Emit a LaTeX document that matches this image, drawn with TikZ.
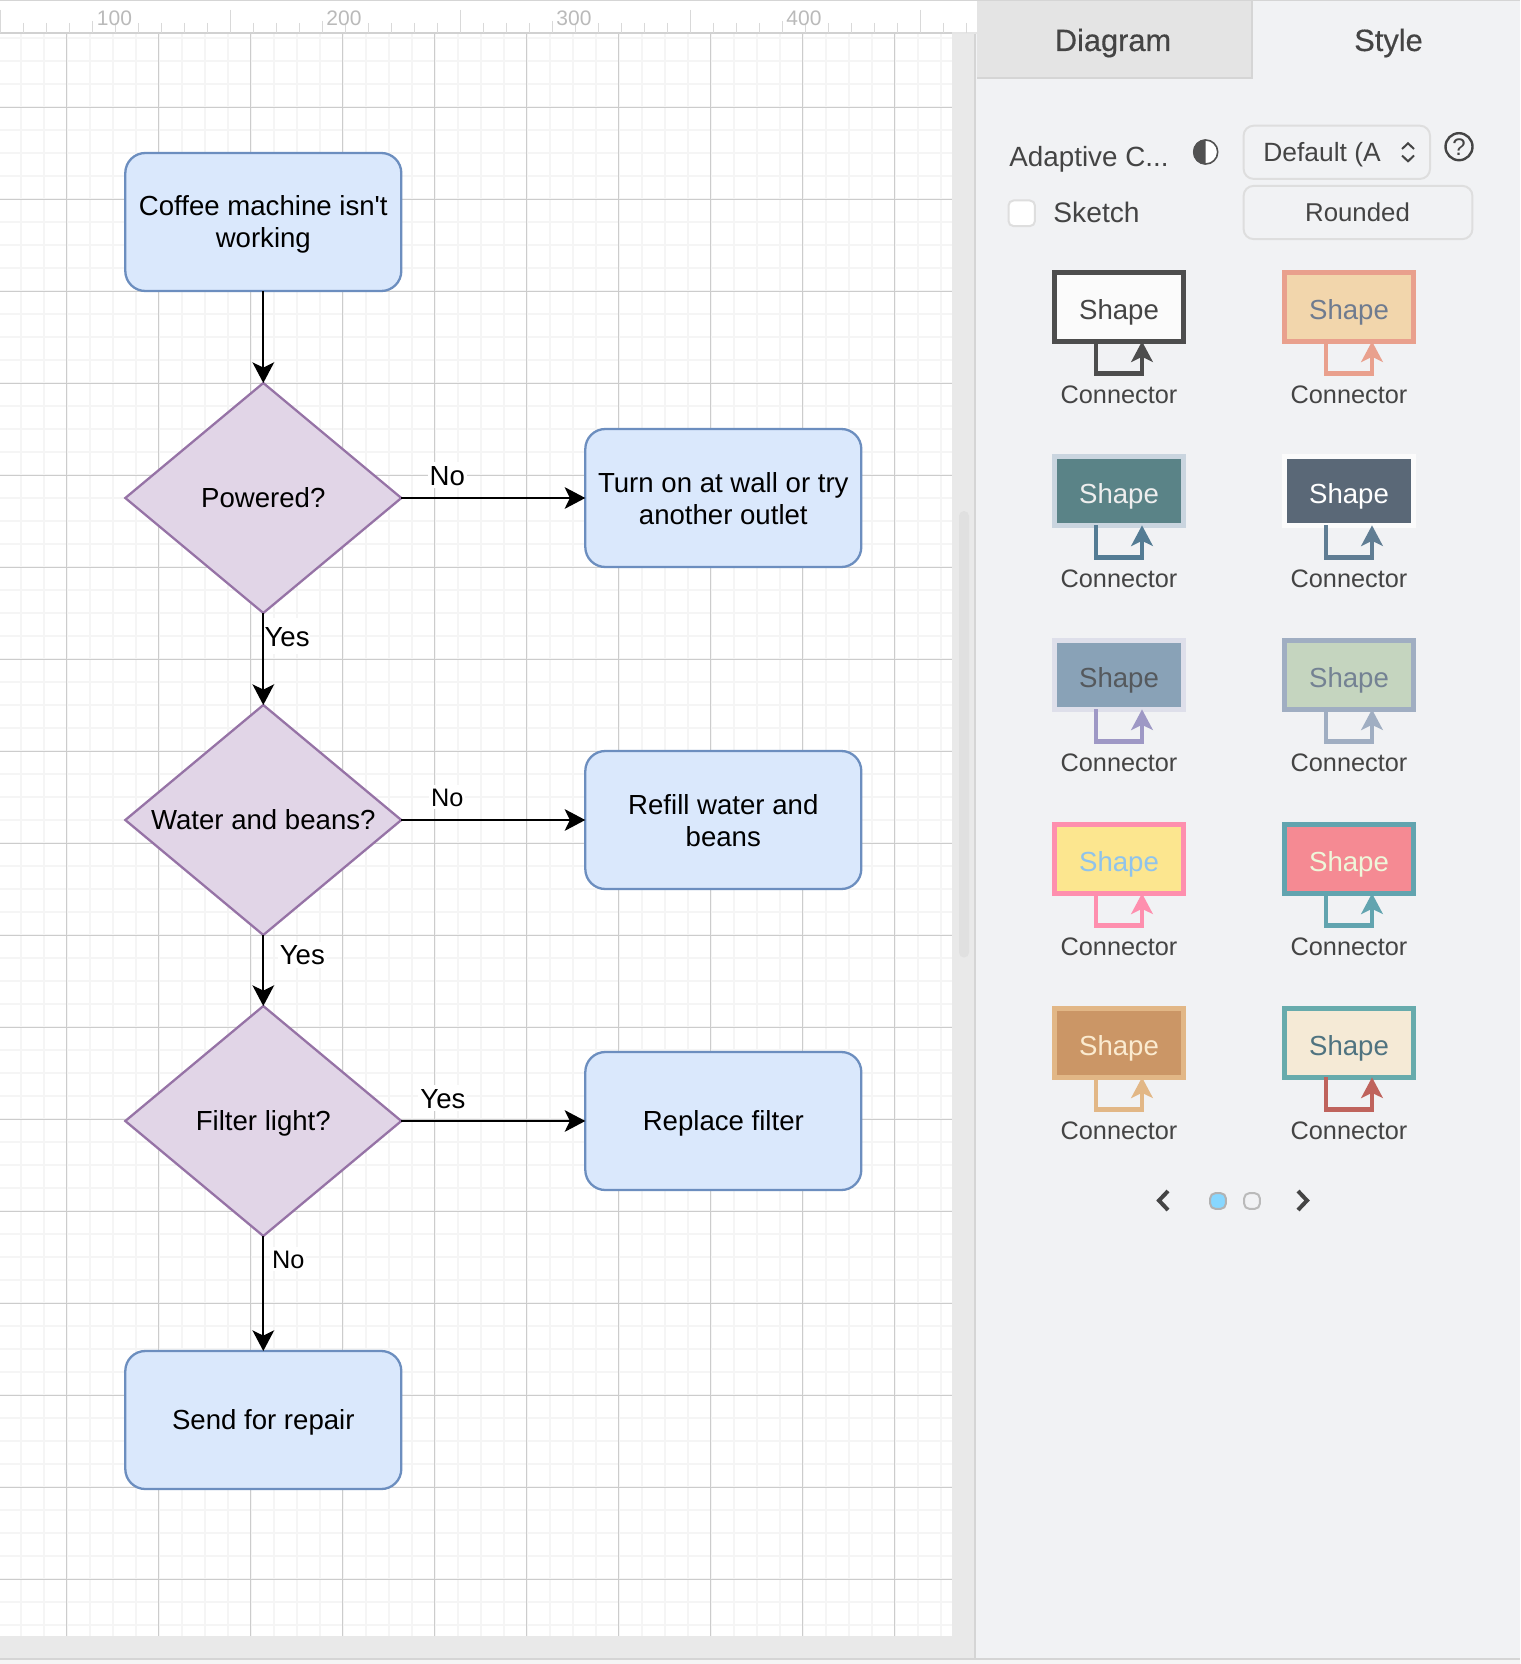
\documentclass[tikz,border=0pt]{standalone}
\usepackage{fontspec}
\setmainfont{Liberation Sans}
\newfontfamily\tabfont[FakeBold=0.4]{Liberation Sans}
\usetikzlibrary{positioning, shapes.geometric, arrows.meta}
\definecolor{panelbg}{HTML}{F1F2F4}
\definecolor{marginbg}{HTML}{E9E9E9}
\definecolor{edgegrey}{HTML}{D5D5D5}
\definecolor{tabbg}{HTML}{E4E4E4}
\definecolor{paneltext}{HTML}{444444}
\definecolor{boxfill}{HTML}{DAE8FC}
\definecolor{boxline}{HTML}{6C8EBF}
\definecolor{diafill}{HTML}{E1D5E7}
\definecolor{dialine}{HTML}{9673A6}
\tikzset{process/.style = {draw=boxline, fill=boxfill, line width=1.15pt, rounded corners=10pt, minimum width=138pt, minimum height=69pt, inner sep=0pt, outer sep=0pt, align=center, font=\fontsize{13.8}{16}\selectfont}}
\tikzset{oneline/.style = {text height=9.8pt, text depth=0pt}}
\tikzset{twolines/.style = {text height=26pt, text depth=0pt}}
\tikzset{decision/.style = {diamond, draw=dialine, fill=diafill, line width=1.15pt, shape aspect=1.2, minimum width=138pt, minimum height=115pt, inner sep=0pt, outer sep=0pt, oneline, font=\fontsize{13.8}{16}\selectfont}}
\tikzset{edgelabel/.style = {fill=white, inner xsep=1pt, inner ysep=1.5pt, text height=10pt, text depth=0pt, font=\fontsize{13.8}{16}\selectfont}}
\tikzset{smalllabel/.style = {edgelabel, text height=9.4pt, font=\fontsize{12.65}{14}\selectfont}}
\tikzset{rulerlabel/.style = {text=black!27, inner sep=0pt, font=\fontsize{10.5}{12}\selectfont}}
\tikzset{panellabel/.style = {text=paneltext, inner sep=0pt, anchor=base west, font=\fontsize{13.9}{16}\selectfont}}
\tikzset{panelbutton/.style = {draw=black!13, fill=panelbg, line width=1pt, rounded corners=5pt, inner sep=0pt, outer sep=0pt}}
\tikzset{tablabel/.style = {text=paneltext, inner sep=0pt, anchor=base, font=\tabfont\fontsize{15.4}{18}\selectfont}}
\tikzset{swatch/.style = {rectangle, line width=2.35pt, minimum width=64.35pt, minimum height=34.35pt, inner sep=0pt, outer sep=0pt, text height=12pt, text depth=0pt, font=\fontsize{13.8}{16}\selectfont}}
\tikzset{swatchlabel/.style = {text=paneltext, inner sep=0pt, text height=9.6pt, text depth=0pt, font=\fontsize{12.65}{14}\selectfont}}
\tikzset{pagerdot/.style = {rectangle, line width=1pt, rounded corners=2.5pt, minimum size=7.8pt, inner sep=0pt, outer sep=0pt}}

\begin{document}
\begin{tikzpicture}[x=0.5pt, y=-0.5pt, >={Stealth[length=10.3pt, width=10.8pt, inset=2.6pt]}]
  \useasboundingbox (0,0) rectangle (1520,1664);
  \fill [black!4] (0,0) rectangle (1520,1664);
  \fill [marginbg] (0,33) rectangle (975,1658);
  \fill [panelbg] (975,1) rectangle (1520,1658);
  \fill [white] (0,1) rectangle (977,33);
  \fill [white] (0,33) rectangle (952,1636);

  \begin{scope}[shift={(66.7,107.3)}]
    \draw [black!4, line width=1pt, step=11.5pt] (-66.7,1528.7) grid (885.3,-74.3);
    \draw [black!20, line width=0.65pt, step=46pt] (-66.7,1528.7) grid (885.3,-74.3);
  \end{scope}

  \draw [edgegrey, line width=1pt] (0,0.5) -- (1520,0.5);
  \draw [edgegrey, line width=1pt] (0,1658.5) -- (1520,1658.5);
  \draw [edgegrey, line width=1pt] (975.3,33) -- (975.3,1658);
  \draw [black!18, line width=0.6pt] (0,33) -- (952,33);
  \draw [black!10, line width=0.6pt] (952,33) -- (977,33);

  \foreach \k in {0,...,42} {
    \draw [black!15, line width=0.5pt] (23*\k,23) -- (23*\k,33);
  }
  \foreach \k in {0,10,...,40} {
    \draw [black!15, line width=0.5pt] (23*\k,10) -- (23*\k,23);
  }
  \foreach \k in {4,14,...,34} {
    \draw [black!15, line width=0.5pt] (23*\k,21) -- (23*\k,23);
  }
  \node [rulerlabel] (r100) at (114.5,18.5) {100};
  \node [rulerlabel] (r200) at (344,18.5) {200};
  \node [rulerlabel] (r300) at (574,18.5) {300};
  \node [rulerlabel] (r400) at (804,18.5) {400};

  \fill [black!12, rounded corners=2.5pt] (959,511) rectangle (969,957.5);

  \node [process, twolines] (start) at (263.3,222) {Coffee machine isn\textquotesingle t\\working};
  \node [decision, below=46pt of start] (powered) {Powered?};
  \node [decision, below=46pt of powered] (water) {Water and beans?};
  \node [decision, below=35.5pt of water] (filter) {Filter light?};
  \node [process, oneline, below=57.5pt of filter] (repair) {Send for repair};
  \node [process, twolines, right=92pt of powered] (outlet) {Turn on at wall or try\\another outlet};
  \node [process, twolines, right=92pt of water] (refill) {Refill water and\\beans};
  \node [process, oneline, right=92pt of filter] (replace) {Replace filter};

  \begin{scope}[line width=1.15pt, black]
    \path[->] (start) edge (powered);
    \path[->] (powered) edge node [edgelabel, pos=.25, xshift=11.9pt, inner xsep=0pt, inner ysep=4pt] {Yes} (water);
    \path[->] (water) edge node [edgelabel, pos=.28, xshift=19.5pt] {Yes} (filter);
    \path[->] (filter) edge node [smalllabel, pos=.2, xshift=12.5pt] {No} (repair);
    \path[->] (powered) edge node [edgelabel, pos=.25, yshift=11.5pt] {No} (outlet);
    \path[->] (water) edge node [smalllabel, pos=.25, yshift=11.5pt] {No} (refill);
    \path[->] (filter) edge node [edgelabel, pos=.226, yshift=11.5pt] {Yes} (replace);
  \end{scope}

  \fill [tabbg] (977,1) rectangle (1251,78);
  \draw [edgegrey, line width=1pt] (977,78.5) -- (1251.5,78.5) -- (1251.5,1);
  \node [tablabel] (tabdiagram) at (1113,51) {Diagram};
  \node [tablabel] (tabstyle) at (1388.5,51) {Style};

  \node [panellabel] (adaptive) at (1009,167) {Adaptive C...};
  \fill [white] (1205.7,152) circle [radius=6.3pt];
  \draw [black!68, line width=0.8pt] (1205.7,152) circle [radius=6pt];
  \fill [black!68] (1205.7,139.3) arc [start angle=90, end angle=270, radius=6.35pt] -- cycle;
  \node [panelbutton, minimum width=93.2pt, minimum height=26.6pt] (dropdown) at (1336.8,152.3) {};
  \begin{scope}
    \clip (1255,130) rectangle (1380,175);
    \node [panellabel, font=\fontsize{13.2}{16}\selectfont] (dropdowntext) at (1263,161.5) {Default (A};
  \end{scope}
  \draw [paneltext, line width=1pt] (1402,149) -- (1408,143.3) -- (1414,149);
  \draw [paneltext, line width=1pt] (1402,155.5) -- (1408,161.3) -- (1414,155.5);
  \node [circle, draw=paneltext, line width=1.2pt, minimum size=13.5pt, inner sep=0pt, text=paneltext, font=\fontsize{12}{12}\selectfont] (help) at (1459,146.7) {?};
  \node [panelbutton, fill=white, rounded corners=2.5pt, minimum width=13.2pt, minimum height=12.8pt] (sketchbox) at (1021.7,213.3) {};
  \node [panellabel, font=\fontsize{14.1}{16}\selectfont] (sketch) at (1053,222.5) {Sketch};
  \node [panelbutton, minimum width=114.4pt, minimum height=26.6pt] (rounded) at (1358,212.5) {};
  \node [panellabel, anchor=base, font=\fontsize{12.9}{16}\selectfont] (roundedtext) at (1357.5,222) {Rounded};

  \foreach \nm/\sx/\sy/\fc/\lc/\tc/\cc in {
    a/1119/307/FBFBFB/4D4D4D/444444/4D4D4D,
    b/1349/307/F2D6AC/E9A08D/6F7B8F/E9A08D,
    c/1119/491/5A8387/CAD5DF/EEEEEE/547C94,
    d/1349/491/5A6877/FBFBFB/FFFFFF/607D93,
    e/1119/675/89A2B7/DEDFEA/55595D/9E98C5,
    f/1349/675/C5D5BF/A0AEC2/748293/A0AEC2,
    g/1119/859/FCE68F/FE8FAE/8FC3EC/FE8FAE,
    h/1349/859/F58A93/62A4AF/EEF7DA/62A4AF,
    i/1119/1043/CB9666/E2B786/FBEBD0/E2B786,
    j/1349/1043/F5EAD6/67ABAC/4F7380/BF635C} {
    \definecolor{swfill}{HTML}{\fc}
    \definecolor{swline}{HTML}{\lc}
    \definecolor{swtext}{HTML}{\tc}
    \definecolor{swconn}{HTML}{\cc}
    \node [swatch, draw=swline, fill=swfill, text=swtext] (\nm) at (\sx,\sy) {Shape};
    \draw [->, swconn, line width=2.35pt] ([xshift=-11.5pt]\nm.south) -- ++(0,32.4) -| ([xshift=11.5pt]\nm.south);
    \node [swatchlabel] (\nm t) at ([yshift=-43.5pt]\nm.center) {Connector};
  }

  \coordinate (pagerleft) at (1168,1191);
  \coordinate (pagerright) at (1298,1191);
  \draw [paneltext, line width=2pt] (pagerleft) -- ++(-9,9.5) -- ++(9,9.5);
  \draw [paneltext, line width=2pt] (pagerright) -- ++(9,9.5) -- ++(-9,9.5);
  \definecolor{dotblue}{HTML}{87D7FF}
  \node [pagerdot, draw=black!30, fill=dotblue] (dotone) at (1218,1201) {};
  \node [pagerdot, draw=black!27, fill=panelbg] (dottwo) at (1252,1201) {};
\end{tikzpicture}
\end{document}
